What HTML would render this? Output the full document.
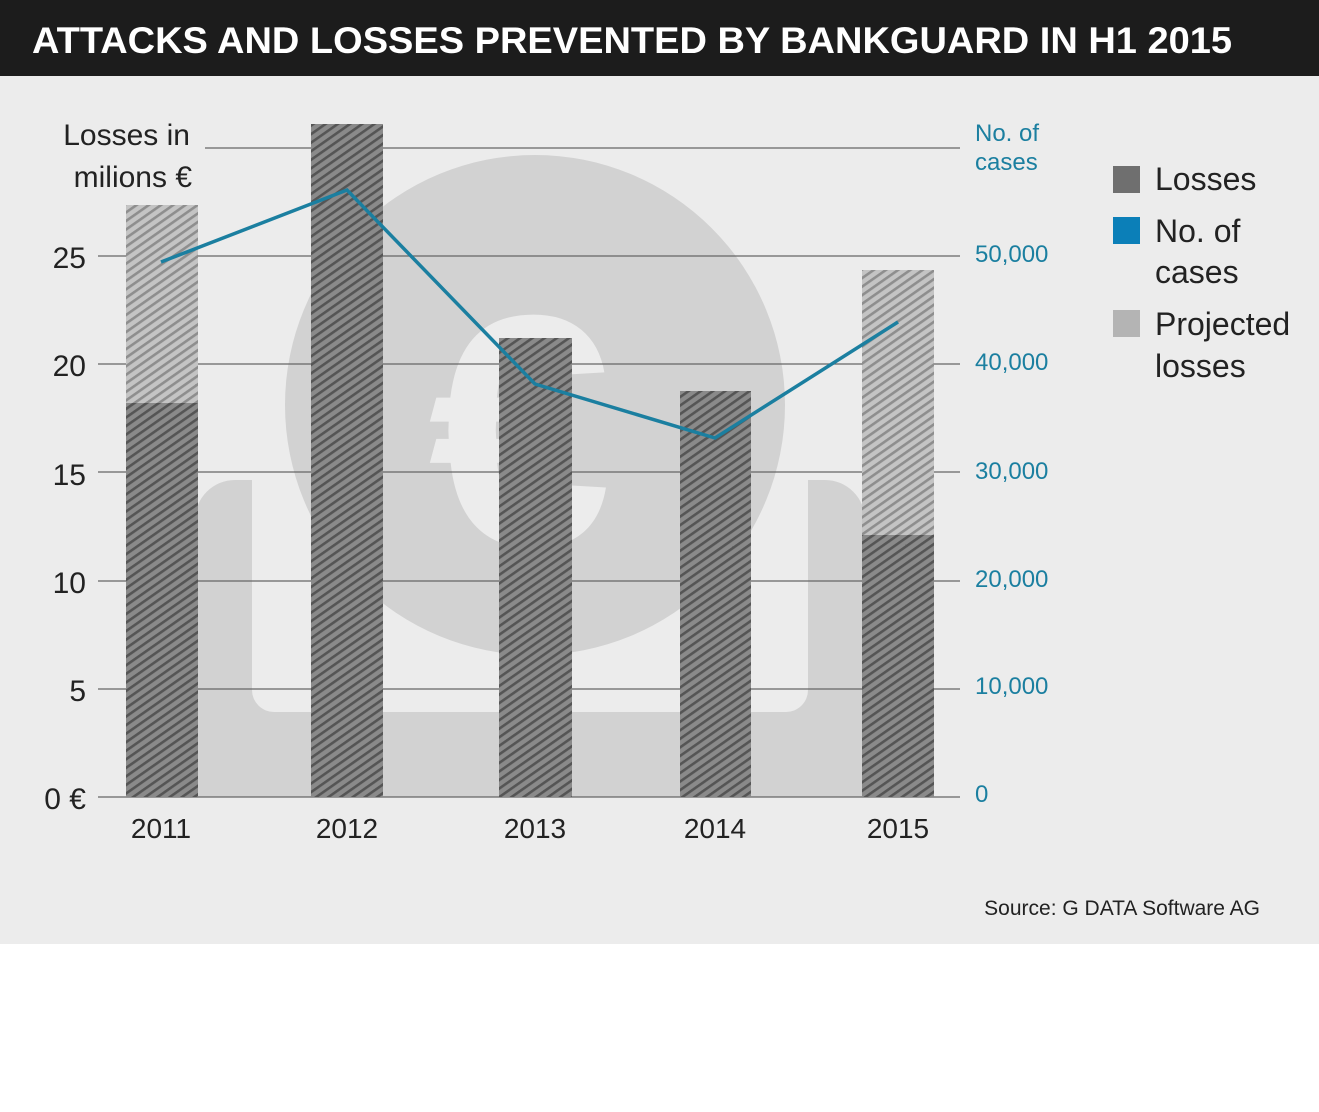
<!DOCTYPE html><html><head><style>body{margin:0;width:1319px;height:1112px;background:#fff;overflow:hidden}svg{display:block}text{font-family:"Liberation Sans",sans-serif}</style></head><body>
<svg width="1319" height="1112" viewBox="0 0 1319 1112">
<defs>
<pattern id="d" width="7" height="7" patternUnits="userSpaceOnUse" patternTransform="rotate(-35)"><rect width="7" height="7" fill="#8a8a8a"/><rect width="7" height="2.6" fill="#555"/></pattern>
<pattern id="p" width="7" height="7" patternUnits="userSpaceOnUse" patternTransform="rotate(-35)"><rect width="7" height="7" fill="#c4c4c4"/><rect width="7" height="2.6" fill="#8e8e8e"/></pattern>
</defs>
<rect x="0" y="0" width="1319" height="76" fill="#1c1c1c"/>
<text x="32" y="53" fill="#fff" font-size="37" font-weight="bold" textLength="1200" lengthAdjust="spacingAndGlyphs">ATTACKS AND LOSSES PREVENTED BY BANKGUARD IN H1 2015</text>
<rect x="0" y="76" width="1319" height="868" fill="#ececec"/>
<!-- background icon -->
<circle cx="535" cy="405" r="250" fill="#d2d2d2"/>
<path d="M195 797 V520 a40 40 0 0 1 40 -40 h17 V690 a22 22 0 0 0 22 22 H786 a22 22 0 0 0 22 -22 V480 h17 a40 40 0 0 1 40 40 V797 Z" fill="#d2d2d2"/>
<text x="520" y="545" font-size="330" font-weight="bold" fill="#ececec" text-anchor="middle">€</text>
<g stroke="#666" stroke-width="1.3">
<line x1="205" y1="148" x2="960" y2="148"/>
<line x1="98" y1="256" x2="960" y2="256"/>
<line x1="98" y1="364" x2="960" y2="364"/>
<line x1="98" y1="472" x2="960" y2="472"/>
<line x1="98" y1="581" x2="960" y2="581"/>
<line x1="98" y1="689" x2="960" y2="689"/>
<line x1="98" y1="797" x2="960" y2="797"/>
</g>
<rect x="126" y="205" width="72" height="198" fill="url(#p)"/>
<rect x="126" y="403" width="72" height="394" fill="url(#d)"/>
<rect x="311" y="124" width="72" height="673" fill="url(#d)"/>
<rect x="499" y="338" width="73" height="459" fill="url(#d)"/>
<rect x="680" y="391" width="71" height="406" fill="url(#d)"/>
<rect x="862" y="270" width="72" height="265" fill="url(#p)"/>
<rect x="862" y="535" width="72" height="262" fill="url(#d)"/>
<polyline points="161,262 347,190 535,384 715,438 898,322" fill="none" stroke="#1b7fa0" stroke-width="3.5"/>
<g font-size="30" fill="#222" text-anchor="end">
<text x="190" y="145">Losses in</text><text x="192" y="187">milions €</text>
<text x="86" y="268">25</text><text x="86" y="376">20</text><text x="86" y="485">15</text><text x="86" y="593">10</text><text x="86" y="701">5</text><text x="86" y="809">0 €</text>
</g>
<g font-size="28" fill="#222" text-anchor="middle">
<text x="161" y="838">2011</text><text x="347" y="838">2012</text><text x="535" y="838">2013</text><text x="715" y="838">2014</text><text x="898" y="838">2015</text>
</g>
<g font-size="24" fill="#1b7fa0">
<text x="975" y="141">No. of</text><text x="975" y="170">cases</text>
<text x="975" y="262">50,000</text><text x="975" y="370">40,000</text><text x="975" y="479">30,000</text><text x="975" y="587">20,000</text><text x="975" y="694">10,000</text><text x="975" y="802">0</text>
</g>
<rect x="1113" y="166" width="27" height="27" fill="#6f6f6f"/>
<rect x="1113" y="217" width="27" height="27" fill="#0b7fb8"/>
<rect x="1113" y="310" width="27" height="27" fill="#b4b4b4"/>
<g font-size="32" fill="#222">
<text x="1155" y="190">Losses</text><text x="1155" y="242">No. of</text><text x="1155" y="283">cases</text><text x="1155" y="335">Projected</text><text x="1155" y="377">losses</text>
</g>
<text x="1260" y="915" font-size="21" fill="#222" text-anchor="end">Source: G DATA Software AG</text>
</svg>
</body></html>
